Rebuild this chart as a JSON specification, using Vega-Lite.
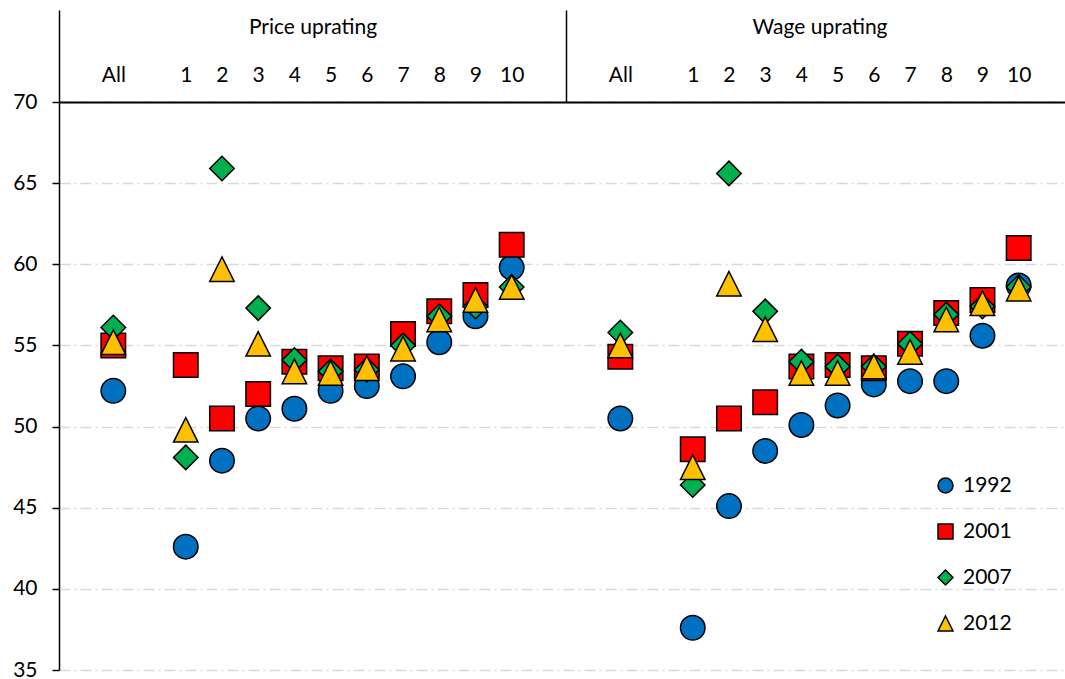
{
  "$schema": "https://vega.github.io/schema/vega-lite/v6.json",
  "width": 1000,
  "height": 568,
  "autosize": "none",
  "padding": {"left": 59, "top": 102, "right": 6, "bottom": 9},
  "background": "white",
  "config": {
    "view": {"stroke": null},
    "font": "Lato",
    "axis": {"labelColor": "black", "labelFont": "Lato", "titleColor": "black"}
  },
  "datasets": {
    "points": [
      {"uprating": "Price uprating", "group": "All", "year": "1992", "value": 52.2},
      {"uprating": "Price uprating", "group": "1", "year": "1992", "value": 42.6},
      {"uprating": "Price uprating", "group": "2", "year": "1992", "value": 47.9},
      {"uprating": "Price uprating", "group": "3", "year": "1992", "value": 50.5},
      {"uprating": "Price uprating", "group": "4", "year": "1992", "value": 51.1},
      {"uprating": "Price uprating", "group": "5", "year": "1992", "value": 52.2},
      {"uprating": "Price uprating", "group": "6", "year": "1992", "value": 52.5},
      {"uprating": "Price uprating", "group": "7", "year": "1992", "value": 53.1},
      {"uprating": "Price uprating", "group": "8", "year": "1992", "value": 55.2},
      {"uprating": "Price uprating", "group": "9", "year": "1992", "value": 56.8},
      {"uprating": "Price uprating", "group": "10", "year": "1992", "value": 59.8},
      {"uprating": "Wage uprating", "group": "All", "year": "1992", "value": 50.5},
      {"uprating": "Wage uprating", "group": "1", "year": "1992", "value": 37.6},
      {"uprating": "Wage uprating", "group": "2", "year": "1992", "value": 45.1},
      {"uprating": "Wage uprating", "group": "3", "year": "1992", "value": 48.5},
      {"uprating": "Wage uprating", "group": "4", "year": "1992", "value": 50.1},
      {"uprating": "Wage uprating", "group": "5", "year": "1992", "value": 51.3},
      {"uprating": "Wage uprating", "group": "6", "year": "1992", "value": 52.6},
      {"uprating": "Wage uprating", "group": "7", "year": "1992", "value": 52.8},
      {"uprating": "Wage uprating", "group": "8", "year": "1992", "value": 52.8},
      {"uprating": "Wage uprating", "group": "9", "year": "1992", "value": 55.6},
      {"uprating": "Wage uprating", "group": "10", "year": "1992", "value": 58.7},

      {"uprating": "Price uprating", "group": "All", "year": "2001", "value": 55.0},
      {"uprating": "Price uprating", "group": "1", "year": "2001", "value": 53.8},
      {"uprating": "Price uprating", "group": "2", "year": "2001", "value": 50.5},
      {"uprating": "Price uprating", "group": "3", "year": "2001", "value": 52.0},
      {"uprating": "Price uprating", "group": "4", "year": "2001", "value": 54.0},
      {"uprating": "Price uprating", "group": "5", "year": "2001", "value": 53.6},
      {"uprating": "Price uprating", "group": "6", "year": "2001", "value": 53.7},
      {"uprating": "Price uprating", "group": "7", "year": "2001", "value": 55.7},
      {"uprating": "Price uprating", "group": "8", "year": "2001", "value": 57.1},
      {"uprating": "Price uprating", "group": "9", "year": "2001", "value": 58.1},
      {"uprating": "Price uprating", "group": "10", "year": "2001", "value": 61.2},
      {"uprating": "Wage uprating", "group": "All", "year": "2001", "value": 54.3},
      {"uprating": "Wage uprating", "group": "1", "year": "2001", "value": 48.6},
      {"uprating": "Wage uprating", "group": "2", "year": "2001", "value": 50.5},
      {"uprating": "Wage uprating", "group": "3", "year": "2001", "value": 51.5},
      {"uprating": "Wage uprating", "group": "4", "year": "2001", "value": 53.7},
      {"uprating": "Wage uprating", "group": "5", "year": "2001", "value": 53.8},
      {"uprating": "Wage uprating", "group": "6", "year": "2001", "value": 53.6},
      {"uprating": "Wage uprating", "group": "7", "year": "2001", "value": 55.1},
      {"uprating": "Wage uprating", "group": "8", "year": "2001", "value": 57.0},
      {"uprating": "Wage uprating", "group": "9", "year": "2001", "value": 57.8},
      {"uprating": "Wage uprating", "group": "10", "year": "2001", "value": 61.0},

      {"uprating": "Price uprating", "group": "All", "year": "2007", "value": 56.1},
      {"uprating": "Price uprating", "group": "1", "year": "2007", "value": 48.1},
      {"uprating": "Price uprating", "group": "2", "year": "2007", "value": 65.9},
      {"uprating": "Price uprating", "group": "3", "year": "2007", "value": 57.3},
      {"uprating": "Price uprating", "group": "4", "year": "2007", "value": 54.1},
      {"uprating": "Price uprating", "group": "5", "year": "2007", "value": 53.4},
      {"uprating": "Price uprating", "group": "6", "year": "2007", "value": 53.5},
      {"uprating": "Price uprating", "group": "7", "year": "2007", "value": 55.0},
      {"uprating": "Price uprating", "group": "8", "year": "2007", "value": 56.8},
      {"uprating": "Price uprating", "group": "9", "year": "2007", "value": 57.4},
      {"uprating": "Price uprating", "group": "10", "year": "2007", "value": 58.6},
      {"uprating": "Wage uprating", "group": "All", "year": "2007", "value": 55.8},
      {"uprating": "Wage uprating", "group": "1", "year": "2007", "value": 46.4},
      {"uprating": "Wage uprating", "group": "2", "year": "2007", "value": 65.6},
      {"uprating": "Wage uprating", "group": "3", "year": "2007", "value": 57.1},
      {"uprating": "Wage uprating", "group": "4", "year": "2007", "value": 54.0},
      {"uprating": "Wage uprating", "group": "5", "year": "2007", "value": 53.7},
      {"uprating": "Wage uprating", "group": "6", "year": "2007", "value": 53.7},
      {"uprating": "Wage uprating", "group": "7", "year": "2007", "value": 55.1},
      {"uprating": "Wage uprating", "group": "8", "year": "2007", "value": 56.9},
      {"uprating": "Wage uprating", "group": "9", "year": "2007", "value": 57.4},
      {"uprating": "Wage uprating", "group": "10", "year": "2007", "value": 58.6},

      {"uprating": "Price uprating", "group": "All", "year": "2012", "value": 55.2},
      {"uprating": "Price uprating", "group": "1", "year": "2012", "value": 49.8},
      {"uprating": "Price uprating", "group": "2", "year": "2012", "value": 59.7},
      {"uprating": "Price uprating", "group": "3", "year": "2012", "value": 55.1},
      {"uprating": "Price uprating", "group": "4", "year": "2012", "value": 53.4},
      {"uprating": "Price uprating", "group": "5", "year": "2012", "value": 53.3},
      {"uprating": "Price uprating", "group": "6", "year": "2012", "value": 53.6},
      {"uprating": "Price uprating", "group": "7", "year": "2012", "value": 54.8},
      {"uprating": "Price uprating", "group": "8", "year": "2012", "value": 56.6},
      {"uprating": "Price uprating", "group": "9", "year": "2012", "value": 57.8},
      {"uprating": "Price uprating", "group": "10", "year": "2012", "value": 58.6},
      {"uprating": "Wage uprating", "group": "All", "year": "2012", "value": 55.0},
      {"uprating": "Wage uprating", "group": "1", "year": "2012", "value": 47.5},
      {"uprating": "Wage uprating", "group": "2", "year": "2012", "value": 58.8},
      {"uprating": "Wage uprating", "group": "3", "year": "2012", "value": 56.0},
      {"uprating": "Wage uprating", "group": "4", "year": "2012", "value": 53.3},
      {"uprating": "Wage uprating", "group": "5", "year": "2012", "value": 53.3},
      {"uprating": "Wage uprating", "group": "6", "year": "2012", "value": 53.7},
      {"uprating": "Wage uprating", "group": "7", "year": "2012", "value": 54.6},
      {"uprating": "Wage uprating", "group": "8", "year": "2012", "value": 56.6},
      {"uprating": "Wage uprating", "group": "9", "year": "2012", "value": 57.6},
      {"uprating": "Wage uprating", "group": "10", "year": "2012", "value": 58.5}
    ],
    "sections": [
      {"uprating": "Price uprating"},
      {"uprating": "Wage uprating"}
    ]
  },
  "layer": [
    {
      "data": {"name": "sections"},
      "mark": {"type": "point", "opacity": 0},
      "encoding": {
        "x": {
          "field": "uprating",
          "type": "nominal",
          "scale": {"type": "band", "domain": ["Price uprating", "Wage uprating"], "paddingInner": 0, "paddingOuter": 0, "range": [0, 1014]},
          "axis": {
            "orient": "top",
            "title": null,
            "domain": false,
            "grid": false,
            "ticks": true,
            "tickBand": "extent",
            "tickSize": 92,
            "tickColor": "black",
            "tickWidth": 1.5,
            "labelFontSize": 21,
            "labelPadding": -27,
            "labelAngle": 0,
            "labelColor": "black"
          }
        }
      }
    },
    {
      "data": {"name": "points"},
      "transform": [{"calculate": "datum.uprating + '|' + datum.group", "as": "key"}],
      "mark": {"type": "point", "filled": true, "stroke": "black", "strokeWidth": 1.5, "opacity": 1, "size": 600},
      "encoding": {
        "x": {
          "field": "key",
          "type": "nominal",
          "scale": {
            "type": "point",
            "padding": 0.5,
            "range": [0, 1014],
            "domain": [
              "Price uprating|gapL",
              "Price uprating|All", "Price uprating|gap", "Price uprating|1", "Price uprating|2", "Price uprating|3", "Price uprating|4", "Price uprating|5", "Price uprating|6", "Price uprating|7", "Price uprating|8", "Price uprating|9", "Price uprating|10", "Price uprating|gap2",
              "Wage uprating|gap0", "Wage uprating|All", "Wage uprating|gap", "Wage uprating|1", "Wage uprating|2", "Wage uprating|3", "Wage uprating|4", "Wage uprating|5", "Wage uprating|6", "Wage uprating|7", "Wage uprating|8", "Wage uprating|9", "Wage uprating|10",
              "Wage uprating|gapR"
            ]
          },
          "axis": {
            "orient": "top",
            "title": null,
            "grid": false,
            "ticks": false,
            "tickSize": 0,
            "domain": true,
            "domainColor": "black",
            "domainWidth": 2,
            "labelFontSize": 21,
            "labelPadding": 17,
            "labelAngle": 0,
            "labelColor": "black",
            "labelExpr": "indexof(datum.value, 'gap') >= 0 ? '' : split(datum.value, '|')[1]"
          }
        },
        "y": {
          "field": "value",
          "type": "quantitative",
          "scale": {"domain": [35, 70], "nice": false, "zero": false},
          "axis": {
            "title": null,
            "values": [35, 40, 45, 50, 55, 60, 65, 70],
            "domainColor": "black",
            "domainWidth": 1.5,
            "tickColor": "black",
            "tickWidth": 1.5,
            "tickSize": 7,
            "labelFontSize": 21,
            "labelPadding": 15,
            "labelColor": "black",
            "grid": true,
            "gridColor": "#d9d9d9",
            "gridWidth": 1.5,
            "gridDash": [11, 4, 2, 4]
          }
        },
        "color": {
          "field": "year",
          "type": "nominal",
          "scale": {"domain": ["1992", "2001", "2007", "2012"], "range": ["#0070C0", "#FF0000", "#00B050", "#FFC000"]},
          "legend": {
            "title": null,
            "orient": "none",
            "legendX": 876,
            "legendY": 373,
            "padding": 0,
            "rowPadding": 24,
            "symbolSize": 225,
            "symbolStrokeColor": "black",
            "symbolStrokeWidth": 1.5,
            "symbolOpacity": 1,
            "labelFontSize": 21,
            "labelOffset": 7,
            "labelColor": "black",
            "labelFont": "Lato"
          }
        },
        "shape": {
          "field": "year",
          "type": "nominal",
          "scale": {"domain": ["1992", "2001", "2007", "2012"], "range": ["circle", "square", "diamond", "M0,-1L1,1L-1,1Z"]}
        }
      }
    }
  ],
  "resolve": {"scale": {"x": "independent"}}
}
